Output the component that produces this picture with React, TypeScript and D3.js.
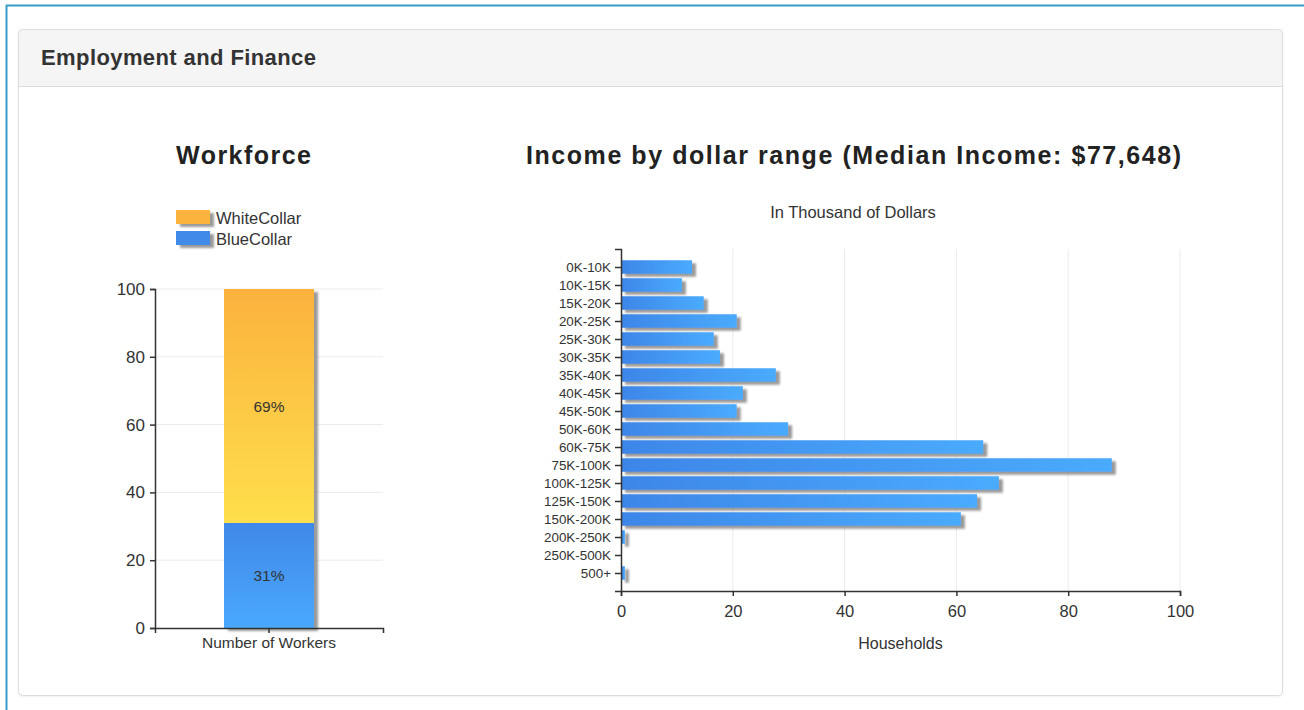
import React, { useEffect, useRef } from "react";
import * as d3 from "d3";

// ---------- data ----------
const workforceCategories = ["Number of Workers"];
const workforceSeries = ["WhiteCollar", "BlueCollar"];
const blueCollarPct = [31];
const whiteCollarPct = [69];
const workforceTicks = [0, 20, 40, 60, 80, 100];

const incomeRanges = [
  "0K-10K", "10K-15K", "15K-20K", "20K-25K", "25K-30K", "30K-35K",
  "35K-40K", "40K-45K", "45K-50K", "50K-60K", "60K-75K", "75K-100K",
  "100K-125K", "125K-150K", "150K-200K", "200K-250K", "250K-500K", "500+",
];
const households = [
  12.7, 10.9, 14.8, 20.7, 16.6, 17.7, 27.7, 21.8, 20.7, 29.9,
  64.8, 87.8, 67.6, 63.7, 60.8, 0.7, 0, 0.7,
];
const householdTicks = [0, 20, 40, 60, 80, 100];

const FONT = '"Liberation Sans", Arial, Helvetica, sans-serif';

export default function App() {
  const leftYRef = useRef<SVGGElement>(null);
  const leftXRef = useRef<SVGGElement>(null);
  const rightYRef = useRef<SVGGElement>(null);
  const rightXRef = useRef<SVGGElement>(null);

  // scales
  const yL = d3.scaleLinear().domain([0, 100]).range([628, 289]);
  const xL = d3
    .scaleBand<string>()
    .domain(workforceCategories)
    .range([155, 383])
    .paddingInner(0)
    .paddingOuter(0.767);
  const xR = d3.scaleLinear().domain([0, 100]).range([621, 1180]);
  const yR = d3.scalePoint<string>().domain(incomeRanges).range([249, 591]).padding(1);

  useEffect(() => {
    const style = (g: any, size: number) => {
      g.attr("font-family", FONT);
      g.select(".domain").attr("stroke", "#333").attr("stroke-width", 1.5);
      g.selectAll(".tick line").attr("stroke", "#333").attr("stroke-width", 1.5);
      g.selectAll(".tick text")
        .attr("fill", "#333")
        .attr("font-size", size)
        .attr("font-family", FONT);
    };
    d3.select(leftYRef.current!)
      .call(d3.axisLeft(yL).tickValues(workforceTicks).tickSize(5).tickPadding(5) as any)
      .call(style, 17);
    d3.select(leftXRef.current!)
      .call(d3.axisBottom(xL).tickSize(5).tickPadding(4) as any)
      .call(style, 15.5);
    d3.select(rightYRef.current!)
      .call(d3.axisLeft(yR).tickSize(6).tickPadding(4) as any)
      .call(style, 13.4);
    d3.select(rightXRef.current!)
      .call(d3.axisBottom(xR).tickValues(householdTicks).tickSize(5).tickPadding(9) as any)
      .call(style, 16.5);
  }, []);

  const bandX = xL(workforceCategories[0])!;
  const bw = xL.bandwidth();
  const blueTop = yL(blueCollarPct[0]);
  const whiteTop = yL(blueCollarPct[0] + whiteCollarPct[0]);
  const barH = 13.5;

  return (
    <svg
      width={1304}
      height={710}
      style={{ position: "absolute", left: 0, top: 0, fontFamily: FONT }}
    >
      <defs>
        <linearGradient id="blueH" x1="0" y1="0" x2="1" y2="0">
          <stop offset="0" stopColor="#3d86e8" />
          <stop offset="1" stopColor="#4aabfd" />
        </linearGradient>
        <linearGradient id="blueV" x1="0" y1="0" x2="0" y2="1">
          <stop offset="0" stopColor="#3f88e9" />
          <stop offset="1" stopColor="#4aa9fc" />
        </linearGradient>
        <linearGradient id="yellowV" x1="0" y1="0" x2="0" y2="1">
          <stop offset="0" stopColor="#fbb23e" />
          <stop offset="1" stopColor="#fedf4b" />
        </linearGradient>
        <filter id="shadow" filterUnits="userSpaceOnUse" x="0" y="0" width="1304" height="710">
          <feDropShadow dx="4" dy="3" stdDeviation="1.3" floodColor="#888" floodOpacity="0.85" />
        </filter>
        <filter id="panelShadow" filterUnits="userSpaceOnUse" x="0" y="0" width="1304" height="710">
          <feDropShadow dx="0" dy="1" stdDeviation="0.8" floodColor="#000" floodOpacity="0.08" />
        </filter>
        <clipPath id="panelClip">
          <rect x={18.5} y={29.5} width={1264} height={666} rx={4} />
        </clipPath>
      </defs>

      {/* outer frame */}
      <rect x={0} y={0} width={1304} height={710} fill="#fff" />
      <line x1={6} y1={5.5} x2={1304} y2={5.5} stroke="#3a9bc9" strokeWidth={2} />
      <line x1={6.5} y1={5} x2={6.5} y2={710} stroke="#3a9bc9" strokeWidth={2} />

      {/* panel */}
      <rect x={18.5} y={29.5} width={1264} height={666} rx={4} fill="#fff" filter="url(#panelShadow)" />
      <g clipPath="url(#panelClip)">
        <rect x={18} y={29} width={1266} height={57.5} fill="#f5f5f5" />
        <line x1={18} y1={86.5} x2={1284} y2={86.5} stroke="#ddd" />
      </g>
      <rect x={18.5} y={29.5} width={1264} height={666} rx={4} fill="none" stroke="#ddd" />
      <text x={41} y={65} fontSize={22} fontWeight="bold" fill="#333" textLength={275} lengthAdjust="spacing">
        Employment and Finance
      </text>

      {/* ---------- Workforce chart ---------- */}
      <text x={176} y={164} fontSize={25} fontWeight="bold" fill="#222" textLength={135} lengthAdjust="spacing">
        Workforce
      </text>

      {/* legend */}
      {workforceSeries.map((s, i) => (
        <g key={s}>
          <rect
            x={176}
            y={210 + i * 21}
            width={34}
            height={14}
            fill={i === 0 ? "#fbb33e" : "#418ae9"}
            filter="url(#shadow)"
          />
          <text x={216} y={224 + i * 21} fontSize={16.5} fill="#333">
            {s}
          </text>
        </g>
      ))}

      {/* grid */}
      {workforceTicks.slice(1).map((t) => (
        <line key={t} x1={155} x2={383} y1={yL(t)} y2={yL(t)} stroke="#ebebeb" />
      ))}

      {/* stacked bar */}
      <g filter="url(#shadow)">
        <rect x={bandX} y={blueTop} width={bw} height={yL(0) - blueTop} fill="url(#blueV)" />
        <rect x={bandX} y={whiteTop} width={bw} height={blueTop - whiteTop} fill="url(#yellowV)" />
      </g>
      <text
        x={bandX + bw / 2}
        y={yL(blueCollarPct[0] + whiteCollarPct[0] / 2)}
        dy="0.36em"
        textAnchor="middle"
        fontSize={15.5}
        fill="#333"
      >
        {whiteCollarPct[0]}%
      </text>
      <text
        x={bandX + bw / 2}
        y={yL(blueCollarPct[0] / 2)}
        dy="0.36em"
        textAnchor="middle"
        fontSize={15.5}
        fill="#333"
      >
        {blueCollarPct[0]}%
      </text>

      <g ref={leftYRef} transform="translate(155,0)" />
      <g ref={leftXRef} transform="translate(0,628)" />

      {/* ---------- Income chart ---------- */}
      <text x={526} y={164} fontSize={25} fontWeight="bold" fill="#222" textLength={655} lengthAdjust="spacing">
        Income by dollar range (Median Income: $77,648)
      </text>
      <text x={853} y={218} fontSize={16.5} textAnchor="middle" fill="#333">
        In Thousand of Dollars
      </text>

      {householdTicks.slice(1).map((t) => (
        <line key={t} x1={xR(t)} x2={xR(t)} y1={249} y2={591} stroke="#ebebeb" />
      ))}

      {incomeRanges.map((r, i) =>
        households[i] > 0 ? (
          <rect
            key={r}
            x={xR(0)}
            y={yR(r)! - barH / 2}
            width={xR(households[i]) - xR(0)}
            height={barH}
            fill="url(#blueH)"
            filter="url(#shadow)"
          />
        ) : null
      )}

      <g ref={rightYRef} transform="translate(621,0)" />
      <g ref={rightXRef} transform="translate(0,591)" />

      <text x={900.5} y={649} fontSize={16} textAnchor="middle" fill="#333">
        Households
      </text>
    </svg>
  );
}
